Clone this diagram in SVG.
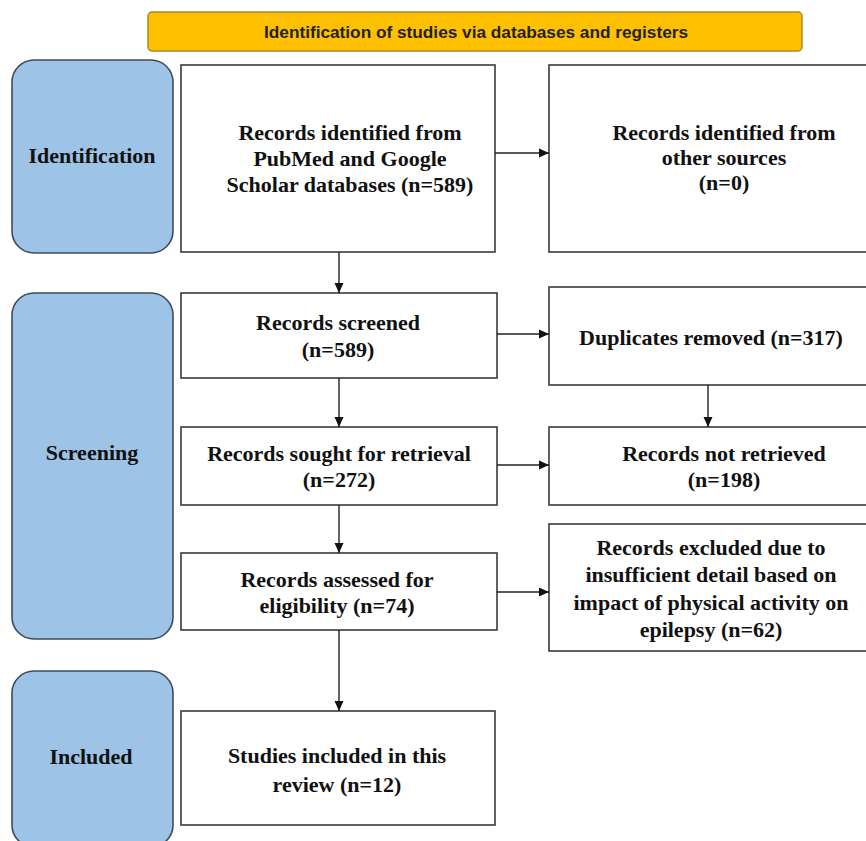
<svg xmlns="http://www.w3.org/2000/svg" width="866" height="841" viewBox="0 0 866 841">
<defs>
<style>
.phase{fill:#9DC3E6;stroke:#3F4C59;stroke-width:1.6}
.box{fill:#fff;stroke:#3a3a3a;stroke-width:1.6}
.pt{font-family:"Liberation Serif","Times New Roman",serif;font-weight:bold;font-size:22px;fill:#111;text-anchor:middle}
.bt{font-family:"Liberation Serif","Times New Roman",serif;font-weight:bold;font-size:22px;fill:#111;text-anchor:middle}
.conn{stroke:#222;stroke-width:1.4;fill:none;marker-end:url(#ah)}
</style>
<marker id="ah" viewBox="0 0 10 10" refX="10" refY="5" markerWidth="10" markerHeight="10" markerUnits="userSpaceOnUse" orient="auto">
<path d="M0,0.5 L10,5 L0,9.5 z" fill="#111"/>
</marker>
</defs>
<rect width="866" height="841" fill="#fff"/>

<g id="banner">
<rect x="148" y="12" width="654" height="39" rx="4" fill="#FFC000" stroke="#A8892A" stroke-width="1.5"/>
<text x="476" y="38" font-family="'Liberation Sans',Arial,sans-serif" font-weight="bold" font-size="16" fill="#222" text-anchor="middle" textLength="424" lengthAdjust="spacingAndGlyphs">Identification of studies via databases and registers</text>
</g>

<g id="phase-identification">
<rect class="phase" x="12" y="60" width="161" height="193" rx="22"/>
<text class="pt" x="92" y="163">Identification</text>
</g>
<g id="phase-screening">
<rect class="phase" x="12" y="293" width="161" height="346" rx="22"/>
<text class="pt" x="92" y="460">Screening</text>
</g>
<g id="phase-included">
<rect class="phase" x="12" y="671" width="161" height="176" rx="22"/>
<text class="pt" x="91" y="764">Included</text>
</g>

<g id="records-identified">
<rect class="box" x="181" y="65" width="314" height="187"/>
<text class="bt" x="350" y="140">Records identified from</text>
<text class="bt" x="350" y="166">PubMed and Google</text>
<text class="bt" x="350" y="192">Scholar databases (n=589)</text>
</g>
<g id="other-sources">
<rect class="box" x="549" y="65" width="330" height="187"/>
<text class="bt" x="724" y="140">Records identified from</text>
<text class="bt" x="724" y="165">other sources</text>
<text class="bt" x="724" y="190">(n=0)</text>
</g>
<g id="records-screened">
<rect class="box" x="181" y="293" width="316" height="85"/>
<text class="bt" x="338" y="330">Records screened</text>
<text class="bt" x="338" y="357">(n=589)</text>
</g>
<g id="duplicates">
<rect class="box" x="549" y="287" width="330" height="98"/>
<text class="bt" x="711" y="345">Duplicates removed (n=317)</text>
</g>
<g id="records-sought">
<rect class="box" x="181" y="427" width="316" height="78"/>
<text class="bt" x="339" y="461">Records sought for retrieval</text>
<text class="bt" x="339" y="487">(n=272)</text>
</g>
<g id="not-retrieved">
<rect class="box" x="549" y="427" width="330" height="78"/>
<text class="bt" x="724" y="461">Records not retrieved</text>
<text class="bt" x="724" y="487">(n=198)</text>
</g>
<g id="records-assessed">
<rect class="box" x="181" y="553" width="316" height="77"/>
<text class="bt" x="337" y="587">Records assessed for</text>
<text class="bt" x="337" y="613">eligibility  (n=74)</text>
</g>
<g id="excluded">
<rect class="box" x="549" y="524" width="330" height="127"/>
<text class="bt" x="711" y="555">Records excluded due to</text>
<text class="bt" x="711" y="582">insufficient detail based on</text>
<text class="bt" x="711" y="610">impact of physical activity on</text>
<text class="bt" x="711" y="637">epilepsy (n=62)</text>
</g>
<g id="studies-included">
<rect class="box" x="181" y="711" width="314" height="114"/>
<text class="bt" x="337" y="763">Studies included in this</text>
<text class="bt" x="337" y="792">review (n=12)</text>
</g>

<g id="connectors">
<line class="conn" x1="495" y1="153" x2="549" y2="153"/>
<line class="conn" x1="339" y1="252" x2="339" y2="293"/>
<line class="conn" x1="497" y1="334" x2="549" y2="334"/>
<line class="conn" x1="339" y1="378" x2="339" y2="427"/>
<line class="conn" x1="708" y1="385" x2="708" y2="427"/>
<line class="conn" x1="497" y1="465" x2="549" y2="465"/>
<line class="conn" x1="339" y1="505" x2="339" y2="553"/>
<line class="conn" x1="497" y1="592" x2="549" y2="592"/>
<line class="conn" x1="339" y1="630" x2="339" y2="711"/>
</g>
</svg>
